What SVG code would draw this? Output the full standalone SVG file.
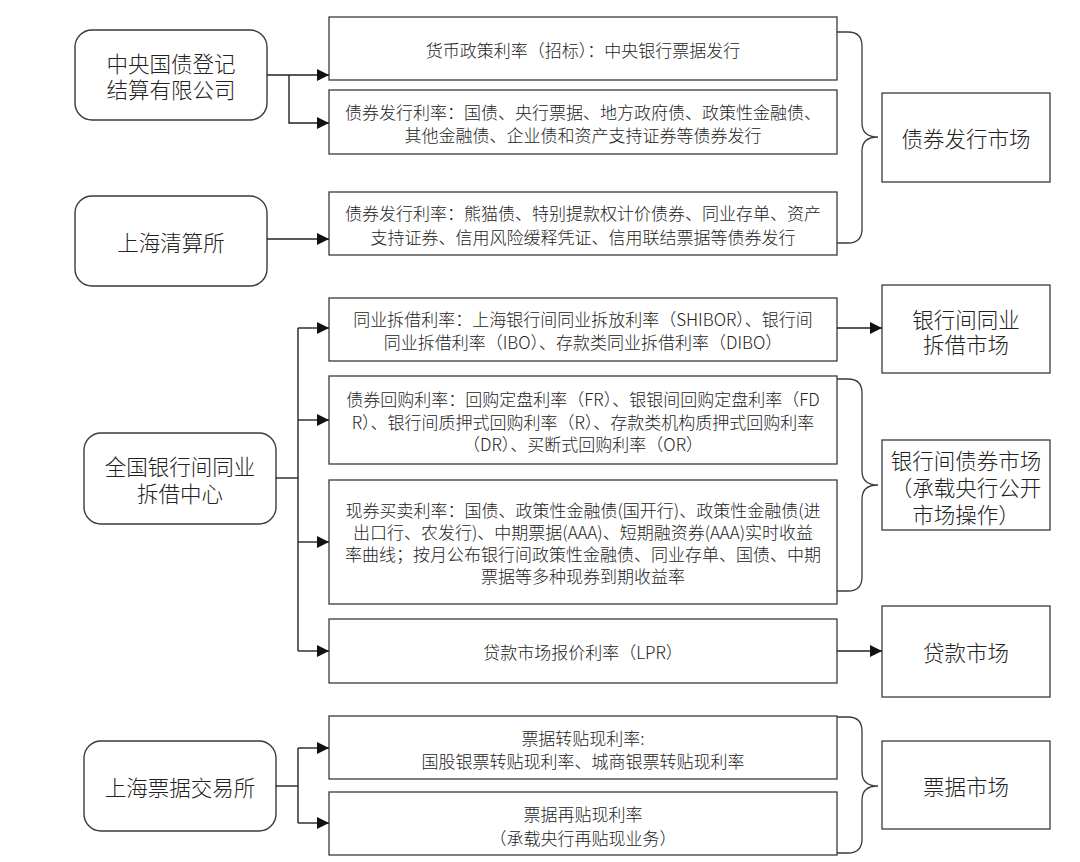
<svg xmlns="http://www.w3.org/2000/svg" width="1080" height="862" viewBox="0 0 1080 862">
<style>
text{font-family:"Noto Sans CJK SC","Microsoft YaHei","Noto Sans",sans-serif;fill:#222;dominant-baseline:central;text-anchor:middle;font-weight:300}
.src rect{fill:#fff;stroke:#3a3a3a;stroke-width:1.4}
.src text{font-size:21.5px}
.rate rect{fill:#fff;stroke:#3a3a3a;stroke-width:1.3}
.rate text{font-size:17px}
.mkt rect{fill:#fff;stroke:#3a3a3a;stroke-width:1.3}
.mkt text{font-size:21.5px}
.conn path{fill:none;stroke:#222;stroke-width:1.4}
.brace path{fill:none;stroke:#3a3a3a;stroke-width:1.3}
</style>
<defs>
<marker id="arr" viewBox="0 0 12 12" refX="12" refY="6" markerWidth="12" markerHeight="12" markerUnits="userSpaceOnUse" orient="auto">
<path d="M0,0 L12,6 L0,12 z" fill="#111"/>
</marker>
</defs>
<rect width="1080" height="862" fill="#fff"/>

<g id="src-ccdc" class="src"><rect x="75" y="30" width="192" height="90" rx="17"/><text x="171" y="62"><tspan x="171" y="62">中央国债登记</tspan><tspan x="171" y="88">结算有限公司</tspan></text></g>
<g id="src-shclearing" class="src"><rect x="75" y="196" width="192" height="90" rx="17"/><text x="171" y="241">上海清算所</text></g>
<g id="src-cfets" class="src"><rect x="84" y="433" width="192" height="91" rx="17"/><text x="180" y="465"><tspan x="180" y="465">全国银行间同业</tspan><tspan x="180" y="492">拆借中心</tspan></text></g>
<g id="src-shcpe" class="src"><rect x="84" y="741" width="192" height="90" rx="17"/><text x="180" y="786">上海票据交易所</text></g>

<g id="rate-cbills" class="rate"><rect x="329" y="17" width="508" height="63"/><text x="583" y="49">货币政策利率（招标）：中央银行票据发行</text></g>
<g id="rate-bond1" class="rate"><rect x="329" y="90" width="508" height="64"/><text x="583" y="111"><tspan x="583" y="111">债券发行利率：国债、央行票据、地方政府债、政策性金融债、</tspan><tspan x="583" y="134">其他金融债、企业债和资产支持证券等债券发行</tspan></text></g>
<g id="rate-bond2" class="rate"><rect x="329" y="192" width="508" height="63"/><text x="583" y="212"><tspan x="583" y="212">债券发行利率：熊猫债、特别提款权计价债券、同业存单、资产</tspan><tspan x="583" y="236">支持证券、信用风险缓释凭证、信用联结票据等债券发行</tspan></text></g>
<g id="rate-interbank" class="rate"><rect x="329" y="298" width="508" height="63"/><text x="583" y="318"><tspan x="583" y="318">同业拆借利率：上海银行间同业拆放利率（SHIBOR）、银行间</tspan><tspan x="583" y="341">同业拆借利率（IBO）、存款类同业拆借利率（DIBO）</tspan></text></g>
<g id="rate-repo" class="rate"><rect x="329" y="376" width="508" height="88"/><text x="583" y="398"><tspan x="583" y="398">债券回购利率：回购定盘利率（FR）、银银间回购定盘利率（FD</tspan><tspan x="583" y="421">R）、银行间质押式回购利率（R）、存款类机构质押式回购利率</tspan><tspan x="583" y="443">（DR）、买断式回购利率（OR）</tspan></text></g>
<g id="rate-spot" class="rate"><rect x="329" y="480" width="508" height="124"/><text x="583" y="509"><tspan x="583" y="509">现券买卖利率：国债、政策性金融债(国开行)、政策性金融债(进</tspan><tspan x="583" y="531">出口行、农发行)、中期票据(AAA)、短期融资券(AAA)实时收益</tspan><tspan x="583" y="553">率曲线；按月公布银行间政策性金融债、同业存单、国债、中期</tspan><tspan x="583" y="575">票据等多种现券到期收益率</tspan></text></g>
<g id="rate-lpr" class="rate"><rect x="329" y="619" width="508" height="64"/><text x="583" y="651">贷款市场报价利率（LPR）</text></g>
<g id="rate-rediscount" class="rate"><rect x="329" y="716" width="508" height="63"/><text x="583" y="737"><tspan x="583" y="737">票据转贴现利率:</tspan><tspan x="583" y="760">国股银票转贴现利率、城商银票转贴现利率</tspan></text></g>
<g id="rate-pboc-rediscount" class="rate"><rect x="329" y="792" width="508" height="63"/><text x="583" y="813"><tspan x="583" y="813">票据再贴现利率</tspan><tspan x="583" y="837">（承载央行再贴现业务）</tspan></text></g>

<g id="mkt-bondissue" class="mkt"><rect x="882" y="93" width="168" height="89"/><text x="966" y="137">债券发行市场</text></g>
<g id="mkt-interbank" class="mkt"><rect x="882" y="285" width="168" height="88"/><text x="966" y="318"><tspan x="966" y="318">银行间同业</tspan><tspan x="966" y="343">拆借市场</tspan></text></g>
<g id="mkt-bond" class="mkt"><rect x="882" y="440" width="168" height="90"/><text x="966" y="459"><tspan x="966" y="459">银行间债券市场</tspan><tspan x="966" y="486">（承载央行公开</tspan><tspan x="966" y="513">市场操作）</tspan></text></g>
<g id="mkt-loan" class="mkt"><rect x="882" y="606" width="168" height="91"/><text x="966" y="651">贷款市场</text></g>
<g id="mkt-bill" class="mkt"><rect x="882" y="741" width="168" height="88"/><text x="966" y="785">票据市场</text></g>

<g id="connectors" class="conn">
<path d="M267,75 H329" marker-end="url(#arr)"/>
<path d="M289,75 V123 H329" marker-end="url(#arr)"/>
<path d="M267,239 H329" marker-end="url(#arr)"/>
<path d="M276,478 H298"/>
<path d="M298,328 V651"/>
<path d="M298,328 H329" marker-end="url(#arr)"/>
<path d="M298,420 H329" marker-end="url(#arr)"/>
<path d="M298,542 H329" marker-end="url(#arr)"/>
<path d="M298,651 H329" marker-end="url(#arr)"/>
<path d="M276,786 H298"/>
<path d="M298,748 V823"/>
<path d="M298,748 H329" marker-end="url(#arr)"/>
<path d="M298,823 H329" marker-end="url(#arr)"/>
<path d="M837,328 H882" marker-end="url(#arr)"/>
<path d="M837,651 H882" marker-end="url(#arr)"/>
</g>

<g id="braces" class="brace">
<path d="M837,32 H848 Q862,32 862,46 V123 Q862,137 878,137 Q862,137 862,151 V229 Q862,243 848,243 H837"/>
<path d="M837,379 H848 Q862,379 862,393 V471 Q862,485 878,485 Q862,485 862,499 V577 Q862,591 848,591 H837"/>
<path d="M837,717 H848 Q862,717 862,731 V772 Q862,786 878,786 Q862,786 862,800 V839 Q862,853 848,853 H837"/>
</g>
</svg>
